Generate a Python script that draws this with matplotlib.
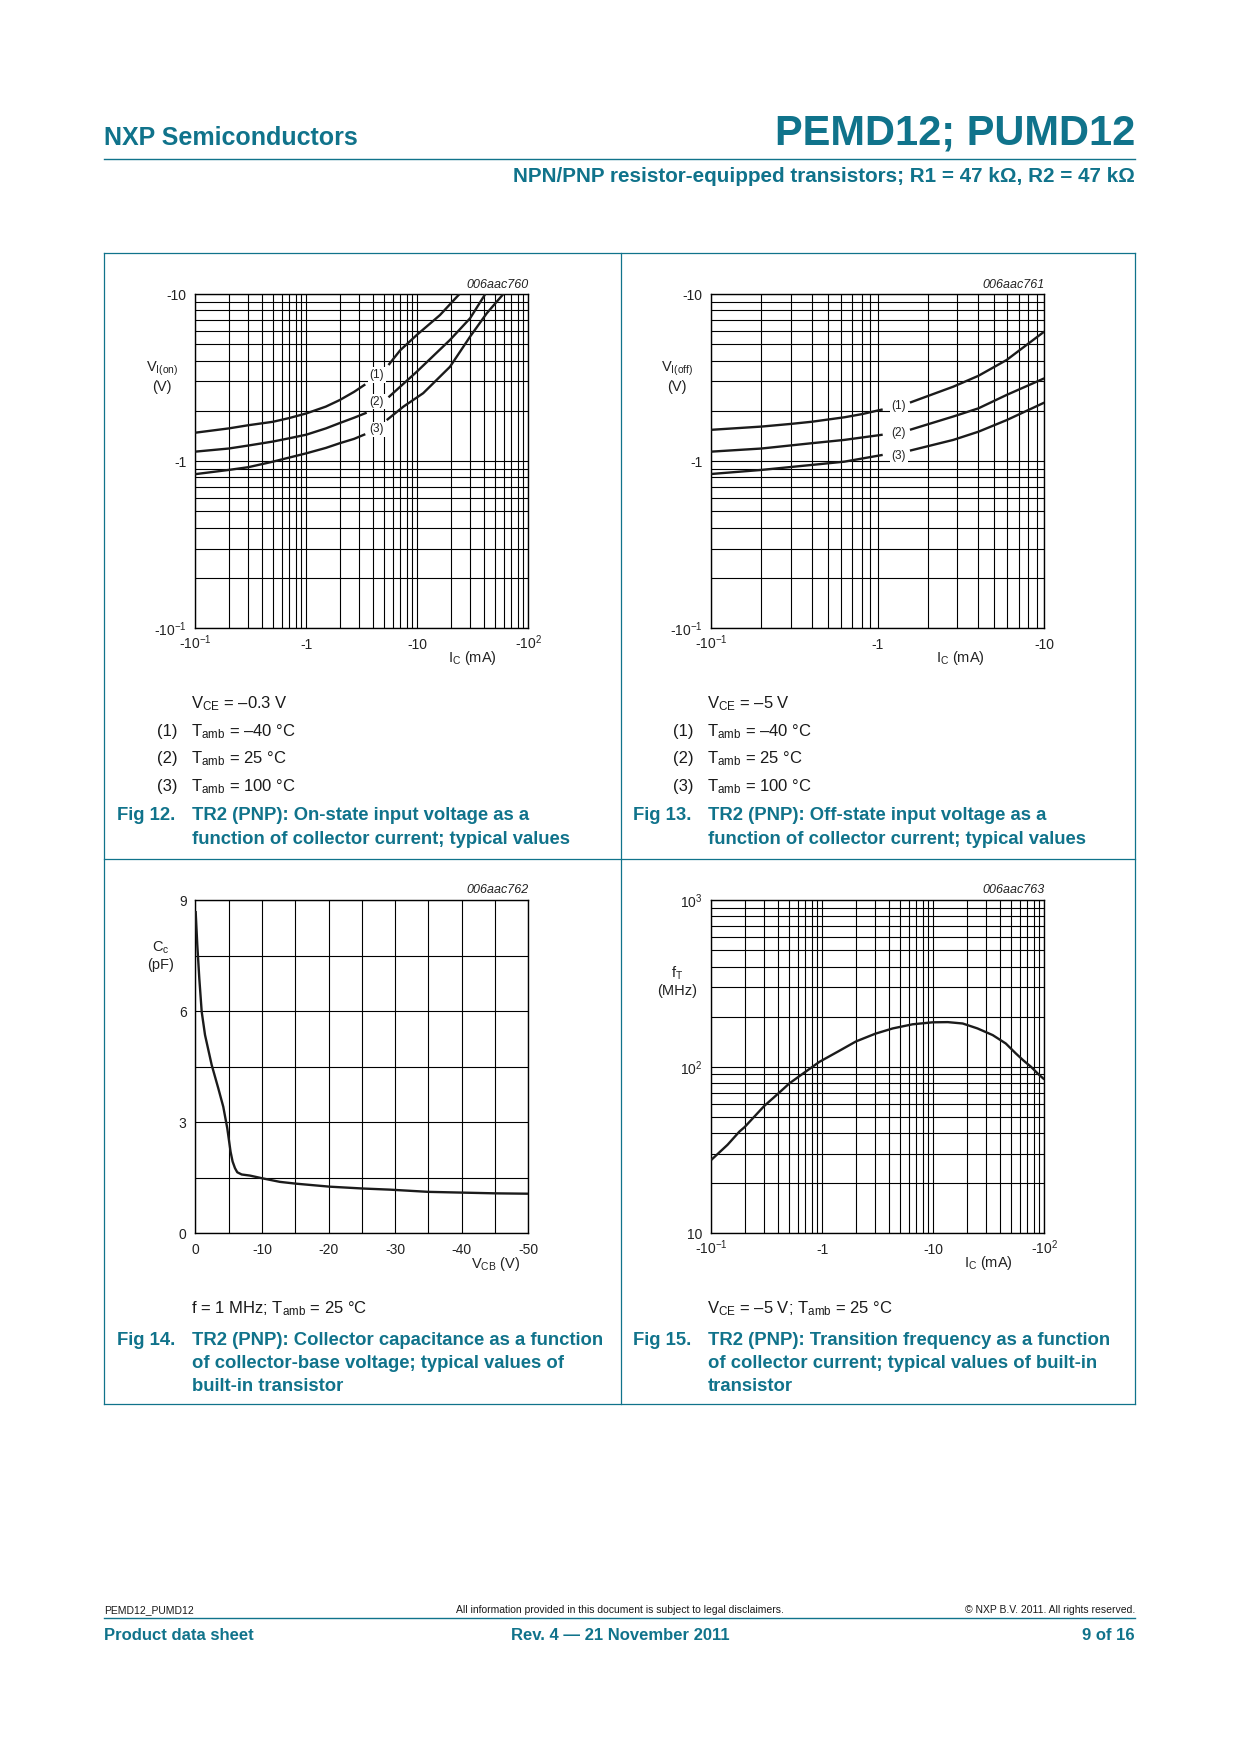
import matplotlib
matplotlib.use('Agg')
import matplotlib.pyplot as plt
from matplotlib.lines import Line2D
from matplotlib.ticker import LogLocator, NullFormatter, FixedLocator

# ---------------- data ----------------
# Fig 12: V_I(on) vs I_C (magnitudes), VCE = -0.3 V ; two segments per curve (gap at label)
f12_c1a_ic = [0.1, 0.2, 0.3, 0.5, 0.7, 1.0, 1.5, 2.0, 2.7, 3.4]
f12_c1a_v = [1.48, 1.57, 1.64, 1.72, 1.81, 1.93, 2.12, 2.32, 2.60, 2.88]
f12_c1b_ic = [5.5, 7.0, 9.9, 16.0, 24.0]
f12_c1b_v = [3.76, 4.60, 5.69, 7.48, 10.0]
f12_c2a_ic = [0.1, 0.2, 0.3, 0.5, 0.7, 1.0, 1.5, 2.0, 2.7, 3.5]
f12_c2a_v = [1.14, 1.19, 1.24, 1.31, 1.37, 1.44, 1.57, 1.69, 1.82, 1.95]
f12_c2b_ic = [5.5, 9.9, 19.7, 29.9, 41.0]
f12_c2b_v = [2.41, 3.43, 5.31, 7.16, 10.0]
f12_c3a_ic = [0.1, 0.2, 0.3, 0.5, 0.7, 1.0, 1.5, 2.0, 2.7, 3.4]
f12_c3a_v = [0.836, 0.886, 0.92, 0.993, 1.05, 1.114, 1.20, 1.28, 1.36, 1.45]
f12_c3b_ic = [5.3, 7.5, 11.3, 19.7, 29.9, 42.2, 59.6]
f12_c3b_v = [1.76, 2.12, 2.55, 3.67, 5.56, 7.66, 10.0]

# Fig 13: V_I(off) vs I_C, VCE = -5 V
f13_c1a_ic = [0.1, 0.2, 0.3, 0.4, 0.63, 0.8, 1.07]
f13_c1a_v = [1.54, 1.61, 1.67, 1.72, 1.83, 1.91, 2.04]
f13_c1b_ic = [1.56, 2.84, 4.02, 5.94, 10.0]
f13_c1b_v = [2.24, 2.79, 3.24, 4.03, 5.96]
f13_c2a_ic = [0.1, 0.2, 0.4, 0.63, 1.07]
f13_c2a_v = [1.14, 1.19, 1.28, 1.34, 1.44]
f13_c2b_ic = [1.56, 2.84, 4.02, 5.94, 10.0]
f13_c2b_v = [1.54, 1.85, 2.07, 2.49, 3.13]
f13_c3a_ic = [0.1, 0.2, 0.4, 0.63, 1.07]
f13_c3a_v = [0.838, 0.886, 0.949, 0.993, 1.09]
f13_c3b_ic = [1.56, 2.84, 4.02, 5.94, 10.0]
f13_c3b_v = [1.156, 1.34, 1.50, 1.76, 2.24]

# Fig 14: Cc vs VCB (magnitude)
f14_vcb = [0.05, 0.3, 0.6, 0.96, 1.46, 2.46, 3.45, 4.2, 4.8, 5.3, 5.6, 5.96, 6.3, 6.96,
           8.2, 9.96, 12.7, 15.2, 20.2, 25.2, 29.2, 35.0, 40.0, 45.0, 50.0]
f14_cc = [8.71, 7.79, 6.89, 5.99, 5.36, 4.55, 3.92, 3.42, 2.84, 2.20, 1.94, 1.76, 1.65, 1.59,
          1.56, 1.49, 1.39, 1.34, 1.26, 1.21, 1.18, 1.12, 1.10, 1.08, 1.07]

# Fig 15: fT vs IC
f15_ic = [0.1, 0.14, 0.179, 0.2, 0.3, 0.4, 0.505, 0.7, 0.94, 1.4, 2.01, 3.0, 4.31, 6.5,
          9.88, 13.5, 18.4, 25.0, 34.3, 45.0, 55.6, 65.0, 75.9, 88.0, 100.0]
f15_ft = [27.6, 34.0, 40.8, 43.5, 58.2, 69.0, 79.5, 93.0, 107, 124, 142, 158, 170, 180,
          185, 185.5, 182, 170, 155, 138, 120, 109, 100, 90.6, 84]

# tick labels
lab_ic3 = ['-10$^{-1}$', '-1', '-10', '-10$^{2}$']
lab_ic2 = ['-10$^{-1}$', '-1', '-10']
lab_v = ['-10$^{-1}$', '-1', '-10']
lab_vcb = ['0', '-10', '-20', '-30', '-40', '-50']
lab_cc = ['0', '3', '6', '9']
lab_ft = ['10', '10$^{2}$', '10$^{3}$']
curve_labels = ['(1)', '(2)', '(3)']

# ---------------- style ----------------
W, H = 1240, 1754
TEAL = '#10738b'
plt.rcParams['font.family'] = ['Liberation Sans', 'DejaVu Sans']
plt.rcParams['mathtext.fontset'] = 'custom'
plt.rcParams['mathtext.rm'] = 'Liberation Sans'
plt.rcParams['mathtext.it'] = 'Liberation Sans:italic'
plt.rcParams['mathtext.bf'] = 'Liberation Sans:bold'
plt.rcParams['mathtext.default'] = 'regular'

fig = plt.figure(figsize=(W / 100, H / 100), dpi=100)


def rect(l, t, r, b):
    return [l / W, 1 - b / H, (r - l) / W, (b - t) / H]


def txt(x, y, s, **kw):
    kw.setdefault('va', 'baseline')
    fig.text(x / W, 1 - y / H, s, **kw)


def line(x0, y0, x1, y1, **kw):
    fig.add_artist(Line2D([x0 / W, x1 / W], [1 - y0 / H, 1 - y1 / H],
                          transform=fig.transFigure, **kw))


def finish(ax):
    ax.grid(True, which='both', color='black', lw=0.8)
    ax.set_axisbelow(True)
    ax.tick_params(which='both', length=0, labelsize=10, colors='#222222')
    ax.tick_params(axis='y', pad=6.3)
    ax.tick_params(axis='x', pad=15)
    for lb in ax.get_xticklabels():
        lb.set_va('baseline')
    for lb in ax.get_yticklabels():
        lb.set_va('center_baseline')
    for s in ax.spines.values():
        s.set_linewidth(1.0)


def logaxes(ax, xlim, ylim, xt, xl, yt, yl):
    ax.set_xscale('log')
    ax.set_yscale('log')
    ax.set_xlim(*xlim)
    ax.set_ylim(*ylim)
    ax.set_xticks(xt, labels=xl)
    ax.set_yticks(yt, labels=yl)
    for a in (ax.xaxis, ax.yaxis):
        a.set_minor_locator(LogLocator(base=10, subs=range(2, 10), numticks=30))
        a.set_minor_formatter(NullFormatter())
    finish(ax)


def labels(ax, ylab, ycoords, xlab, xcoords, code, cy):
    ax.set_ylabel(ylab, rotation=0, ha='center', va='center', fontsize=10.5,
                  multialignment='center', color='#222222')
    ax.yaxis.set_label_coords(*ycoords)
    ax.set_xlabel(xlab, fontsize=10.5, va='center', color='#222222')
    ax.xaxis.set_label_coords(*xcoords)
    ax.text(1.0, cy, code, transform=ax.transAxes, ha='right', va='center',
            fontsize=9, style='italic', color='#222222')


CURVE = dict(color='#1b1b1b', lw=1.7, solid_capstyle='butt', solid_joinstyle='round', zorder=3)
LBL = dict(fontsize=8.5, ha='center', va='center', color='#222222', zorder=4,
           bbox=dict(facecolor='white', edgecolor='none', pad=1.2))

# ---------- Fig 12 ----------
ax = fig.add_axes(rect(195.3, 294, 528.3, 628.3))
logaxes(ax, (0.1, 100), (0.1, 10), [0.1, 1, 10, 100], lab_ic3, [0.1, 1, 10], lab_v)
for xa, ya, xb, yb in [(f12_c1a_ic, f12_c1a_v, f12_c1b_ic, f12_c1b_v),
                       (f12_c2a_ic, f12_c2a_v, f12_c2b_ic, f12_c2b_v),
                       (f12_c3a_ic, f12_c3a_v, f12_c3b_ic, f12_c3b_v)]:
    ax.plot(xa, ya, **CURVE)
    ax.plot(xb, yb, **CURVE)
for s, yy in zip(curve_labels, [3.28, 2.27, 1.55]):
    ax.text(4.3, yy, s, **LBL)
labels(ax, 'V$_{I(on)}$\n(V)', (-0.1, 0.753), 'I$_{C}$ (mA)', (0.832, -0.09), '006aac760', 1.028)

# ---------- Fig 13 ----------
ax = fig.add_axes(rect(711.3, 294, 1044.3, 628.3))
logaxes(ax, (0.1, 10), (0.1, 10), [0.1, 1, 10], lab_ic2, [0.1, 1, 10], lab_v)
for xa, ya, xb, yb in [(f13_c1a_ic, f13_c1a_v, f13_c1b_ic, f13_c1b_v),
                       (f13_c2a_ic, f13_c2a_v, f13_c2b_ic, f13_c2b_v),
                       (f13_c3a_ic, f13_c3a_v, f13_c3b_ic, f13_c3b_v)]:
    ax.plot(xa, ya, **CURVE)
    ax.plot(xb, yb, **CURVE)
for s, yy in zip(curve_labels, [2.14, 1.48, 1.074]):
    ax.text(1.335, yy, s, **LBL)
labels(ax, 'V$_{I(off)}$\n(V)', (-0.102, 0.753), 'I$_{C}$ (mA)', (0.747, -0.09), '006aac761', 1.028)

# ---------- Fig 14 ----------
ax = fig.add_axes(rect(195.3, 900.3, 528.3, 1233.3))
ax.set_xlim(0, 50)
ax.set_ylim(0, 9)
ax.set_xticks([0, 10, 20, 30, 40, 50], labels=lab_vcb)
ax.set_yticks([0, 3, 6, 9], labels=lab_cc)
ax.xaxis.set_minor_locator(FixedLocator([5, 15, 25, 35, 45]))
ax.yaxis.set_minor_locator(FixedLocator([1.5, 4.5, 7.5]))
finish(ax)
ax.plot(f14_vcb, f14_cc, **CURVE)
labels(ax, 'C$_{c}$\n(pF)', (-0.103, 0.833), 'V$_{CB}$ (V)', (0.902, -0.092), '006aac762', 1.031)

# ---------- Fig 15 ----------
ax = fig.add_axes(rect(711.3, 900.3, 1044.3, 1233.3))
logaxes(ax, (0.1, 100), (10, 1000), [0.1, 1, 10, 100], lab_ic3, [10, 100, 1000], lab_ft)
ax.plot(f15_ic, f15_ft, **CURVE)
labels(ax, 'f$_{T}$\n(MHz)', (-0.104, 0.756), 'I$_{C}$ (mA)', (0.832, -0.09), '006aac763', 1.031)

# ---------------- page furniture ----------------
txt(104, 145.4, 'NXP Semiconductors', fontsize=18, fontweight='bold', color=TEAL)
txt(1135, 144.6, 'PEMD12; PUMD12', fontsize=30, fontweight='bold', color=TEAL, ha='right')
line(104, 159.3, 1135, 159.3, color=TEAL, lw=1.0)
txt(1135, 182.5, 'NPN/PNP resistor-equipped transistors; R1 = 47 k\u03a9, R2 = 47 k\u03a9',
    fontsize=14.85, fontweight='bold', color=TEAL, ha='right')

# panel frame
BL = dict(color=TEAL, lw=0.9)
line(104, 253, 1135, 253, **BL)
line(104, 858.5, 1135, 858.5, **BL)
line(104, 1404, 1135, 1404, **BL)
line(104, 253, 104, 1404, **BL)
line(1135, 253, 1135, 1404, **BL)
line(620.5, 253, 620.5, 1404, **BL)

# captions
CAP = dict(fontsize=12, color='#1a1a1a')
FIG = dict(fontsize=13.3, fontweight='bold', color=TEAL)
for dx, vce in [(0, 'V$_{CE}$ = \u20130.3 V'), (516, 'V$_{CE}$ = \u20135 V')]:
    txt(191 + dx, 708, vce, **CAP)
    for i, (n, t) in enumerate(zip(curve_labels,
                                   ['T$_{amb}$ = \u201340 \u00b0C', 'T$_{amb}$ = 25 \u00b0C',
                                    'T$_{amb}$ = 100 \u00b0C'])):
        txt(157 + dx, 736 + 27.5 * i, n, **CAP)
        txt(191 + dx, 736 + 27.5 * i, t, **CAP)

txt(117, 820, 'Fig 12.', **FIG)
txt(192, 820, 'TR2 (PNP): On-state input voltage as a', **FIG)
txt(192, 843.5, 'function of collector current; typical values', **FIG)
txt(633, 820, 'Fig 13.', **FIG)
txt(708, 820, 'TR2 (PNP): Off-state input voltage as a', **FIG)
txt(708, 843.5, 'function of collector current; typical values', **FIG)

txt(191, 1313, 'f = 1 MHz; T$_{amb}$ = 25 \u00b0C', **CAP)
txt(707, 1313, 'V$_{CE}$ = \u20135 V; T$_{amb}$ = 25 \u00b0C', **CAP)
txt(117, 1345, 'Fig 14.', **FIG)
txt(192, 1345, 'TR2 (PNP): Collector capacitance as a function', **FIG)
txt(192, 1368, 'of collector-base voltage; typical values of', **FIG)
txt(192, 1391, 'built-in transistor', **FIG)
txt(633, 1345, 'Fig 15.', **FIG)
txt(708, 1345, 'TR2 (PNP): Transition frequency as a function', **FIG)
txt(708, 1368, 'of collector current; typical values of built-in', **FIG)
txt(708, 1391, 'transistor', **FIG)

# footer
SM = dict(fontsize=7.5, color='#1a1a1a')
txt(104, 1613, 'PEMD12_PUMD12', **SM)
txt(620, 1613, 'All information provided in this document is subject to legal disclaimers.',
    ha='center', **SM)
txt(1135, 1613, '\u00a9 NXP B.V. 2011. All rights reserved.', ha='right', **SM)
line(104, 1618.3, 1135, 1618.3, color=TEAL, lw=1.0)
FB = dict(fontsize=12, fontweight='bold', color=TEAL)
txt(104, 1640, 'Product data sheet', **FB)
txt(620, 1640, 'Rev. 4 \u2014 21 November 2011', ha='center', **FB)
txt(1135, 1640, '9 of 16', ha='right', **FB)

fig.savefig('out.png', dpi=100)
